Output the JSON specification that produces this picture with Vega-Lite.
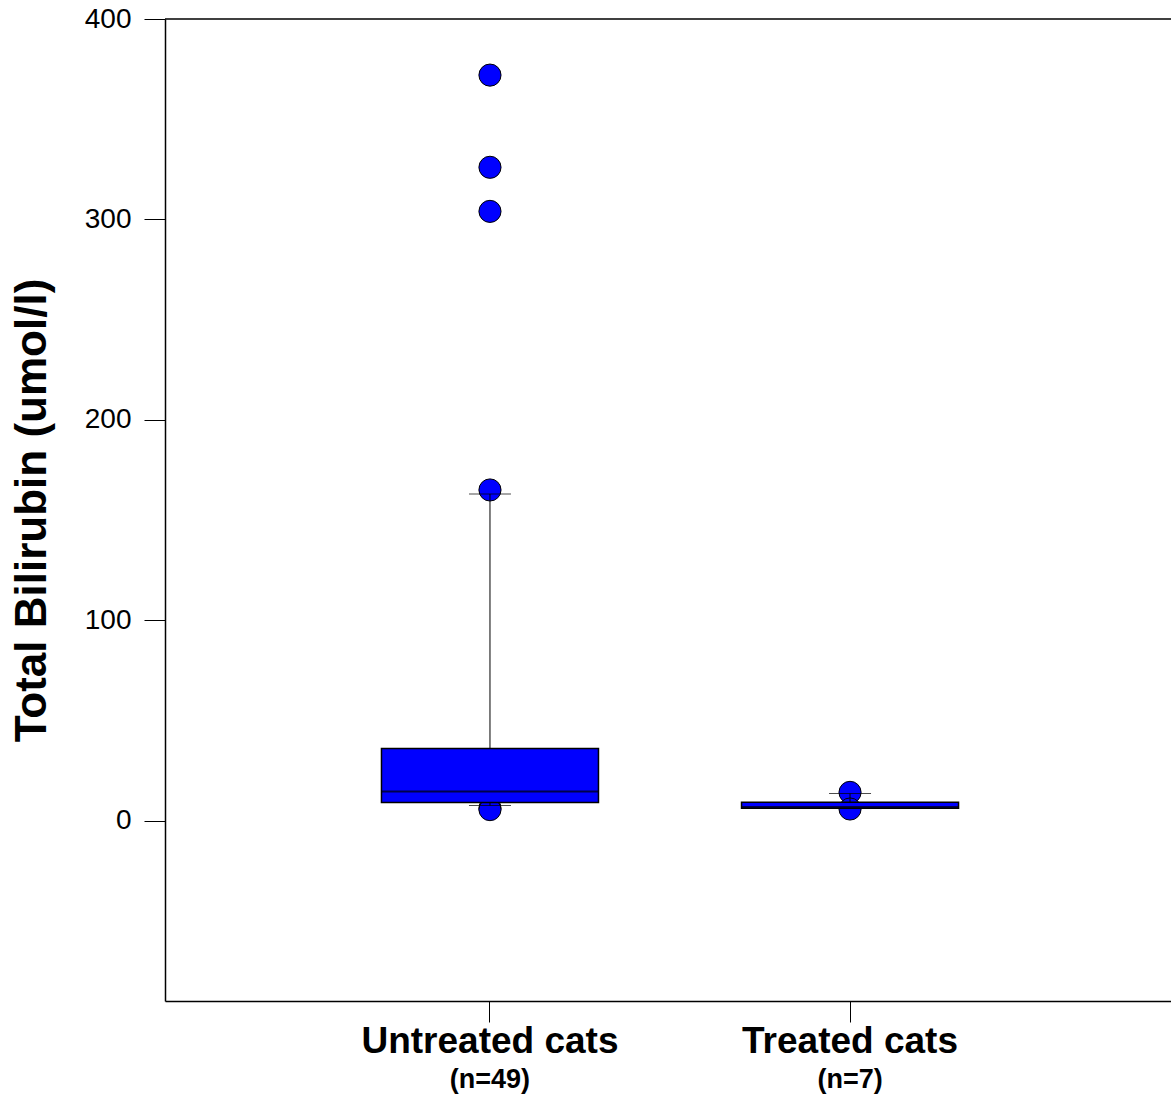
{
  "$schema": "https://vega.github.io/schema/vega-lite/v6.json",
  "autosize": {"type": "none"},
  "padding": {"left": 165, "top": 19, "right": 0, "bottom": 104},
  "width": 1006,
  "height": 982,
  "background": "white",
  "config": {
    "view": {"stroke": null},
    "font": "Liberation Sans",
    "axis": {"domainColor": "black", "tickColor": "black", "labelColor": "black", "titleColor": "black", "grid": false, "domainWidth": 1.5, "tickWidth": 1}
  },
  "datasets": {
    "boxes": [
      {"group": "Untreated cats", "n": "(n=49)", "lower": 7.5, "q1": 9.0, "median": 14.5, "q3": 36.0, "upper": 163.0},
      {"group": "Treated cats", "n": "(n=7)", "lower": 6.0, "q1": 6.2, "median": 6.8, "q3": 9.2, "upper": 13.5}
    ],
    "outliers": [
      {"group": "Untreated cats", "value": 372},
      {"group": "Untreated cats", "value": 326},
      {"group": "Untreated cats", "value": 304},
      {"group": "Untreated cats", "value": 165},
      {"group": "Untreated cats", "value": 6.2},
      {"group": "Untreated cats", "value": 5.5},
      {"group": "Treated cats", "value": 14.1},
      {"group": "Treated cats", "value": 5.8}
    ],
    "frame": [{"top": 400}]
  },
  "layer": [
    {
      "data": {"name": "outliers"},
      "mark": {"type": "point", "shape": "circle", "filled": true, "fill": "#0000FF", "stroke": "black", "strokeWidth": 1, "size": 490, "opacity": 1},
      "encoding": {
        "x": {
          "field": "group", "type": "nominal",
          "scale": {"type": "band", "domain": ["Untreated cats", "Treated cats"], "paddingInner": 0, "paddingOuter": 0.397, "align": 0.507},
          "axis": {"title": null, "labelAngle": 0, "labelLimit": 0, "tickSize": 21, "labelPadding": 1, "labelFontSize": 37, "labelFontWeight": "bold", "labelFont": "Liberation Sans"}
        },
        "y": {
          "field": "value", "type": "quantitative",
          "scale": {"domain": [-90, 400], "nice": false, "zero": false},
          "axis": {"title": "Total Bilirubin (umol/l)", "titleFontSize": 44, "titleFontWeight": "bold", "titlePadding": 30, "values": [0, 100, 200, 300, 400], "tickSize": 21, "labelPadding": 13, "labelFontSize": 28, "labelFont": "Liberation Sans", "titleFont": "Liberation Sans"}
        }
      }
    },
    {
      "data": {"name": "boxes"},
      "mark": {"type": "rule", "color": "black", "strokeWidth": 1},
      "encoding": {"x": {"field": "group", "type": "nominal"}, "y": {"field": "lower", "type": "quantitative"}, "y2": {"field": "upper"}}
    },
    {
      "data": {"name": "boxes"},
      "mark": {"type": "bar", "size": 217, "fill": "#0000FF", "stroke": "black", "strokeWidth": 1.5},
      "encoding": {"x": {"field": "group", "type": "nominal"}, "y": {"field": "q1", "type": "quantitative"}, "y2": {"field": "q3"}}
    },
    {
      "data": {"name": "boxes"},
      "mark": {"type": "tick", "color": "black", "size": 217, "thickness": 2, "orient": "horizontal"},
      "encoding": {"x": {"field": "group", "type": "nominal"}, "y": {"field": "median", "type": "quantitative"}}
    },
    {
      "data": {"name": "boxes"},
      "mark": {"type": "tick", "color": "black", "size": 42, "thickness": 1, "orient": "horizontal"},
      "encoding": {"x": {"field": "group", "type": "nominal"}, "y": {"field": "upper", "type": "quantitative"}}
    },
    {
      "data": {"name": "boxes"},
      "mark": {"type": "tick", "color": "black", "size": 42, "thickness": 1, "orient": "horizontal"},
      "encoding": {"x": {"field": "group", "type": "nominal"}, "y": {"field": "lower", "type": "quantitative"}}
    },
    {
      "data": {"name": "boxes"},
      "mark": {"type": "text", "fontSize": 27, "fontWeight": "bold", "font": "Liberation Sans", "color": "black", "baseline": "middle", "dy": 79},
      "encoding": {"x": {"field": "group", "type": "nominal"}, "y": {"datum": -90}, "text": {"field": "n"}}
    },
    {
      "data": {"name": "frame"},
      "mark": {"type": "rule", "color": "black", "strokeWidth": 1.5},
      "encoding": {"y": {"field": "top", "type": "quantitative"}}
    }
  ]
}
